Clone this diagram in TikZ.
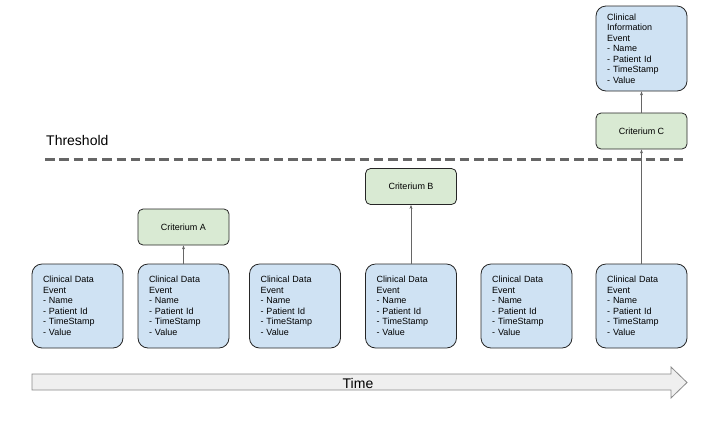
\documentclass[tikz,border=0pt]{standalone}
\usepackage{fontspec}
\setmainfont{Liberation Sans}
\usetikzlibrary{arrows.meta}
\definecolor{evblue}{HTML}{CFE2F3}
\definecolor{crgreen}{HTML}{D9EAD3}
\definecolor{lnGray}{HTML}{666666}
\definecolor{timeFill}{HTML}{EFEFEF}
\definecolor{timeLine}{HTML}{8A8A8A}
\begin{document}
\begin{tikzpicture}[x=1pt,y=-1pt,
  evbox/.style={draw=black!85, line width=0.8pt, fill=evblue, rounded corners=10pt,
    text width=69pt, inner xsep=11pt, inner ysep=0pt, minimum height=84pt, align=left,
    font=\fontsize{9}{10.5}\selectfont},
  crbox/.style={draw=black!85, line width=0.8pt, fill=crgreen, rounded corners=5pt,
    minimum width=91pt, minimum height=36pt, inner sep=0pt,
    font=\fontsize{9}{10.5}\selectfont},
  link/.style={draw=lnGray, line width=0.8pt, -{Stealth[length=4pt,width=3pt]}}
]
\useasboundingbox (0,0) rectangle (720,424);
% threshold
\node[anchor=west, inner sep=0pt, font=\fontsize{14}{16}\selectfont] (thr) at (46,140) {Threshold};
\coordinate (tl) at (45,159);
\coordinate (tr) at (683,159);
\draw[lnGray, line width=3pt, dash pattern=on 9.5pt off 4.8pt] (tl) -- (tr);
% data events
\foreach \n/\x in {1/77.5, 2/183.5, 3/295, 4/411, 5/526.5, 6/641.5}{
  \node[evbox] (d\n) at (\x,306) {Clinical Data\\Event\\- Name\\- Patient Id\\- TimeStamp\\- Value};
}
% criteria
\node[crbox] (ca) at (183.5,227) {Criterium A};
\node[crbox] (cb) at (411,186.5) {Criterium B};
\node[crbox] (cc) at (641.5,131) {Criterium C};
% info event
\node[evbox, minimum height=85pt] (info) at (641.5,48.5) {Clinical\\Information\\Event\\- Name\\- Patient Id\\- TimeStamp\\- Value};
% links
\draw[link] (d2.north) -- (ca.south);
\draw[link] (d4.north) -- (cb.south);
\draw[link] (d6.north) -- (cc.south);
\draw[link] (cc.north) -- (info.south);
% time arrow
\draw[timeLine, fill=timeFill, line width=0.8pt]
  (32,374) -- (671,374) -- (671,367) -- (687,382.5) -- (671,398) -- (671,390) -- (32,390) -- cycle;
\node[font=\fontsize{14}{16}\selectfont, inner sep=0pt] (time) at (358,383) {Time};
\end{tikzpicture}
\end{document}
